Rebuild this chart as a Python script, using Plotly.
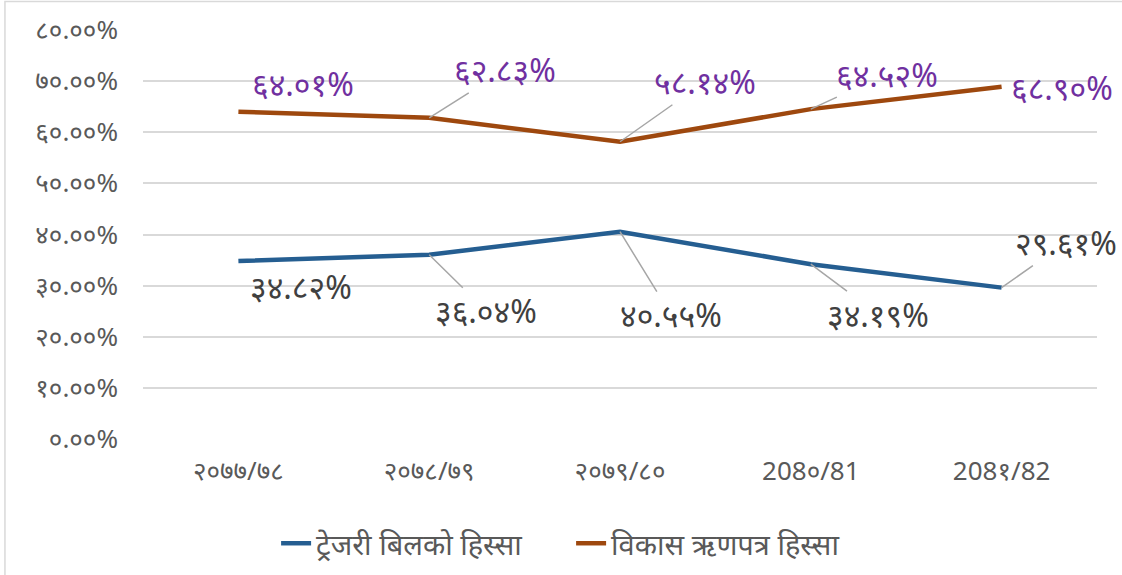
import plotly.graph_objects as go

categories = ["२०७७/७८", "२०७८/७९", "२०७९/८०", "208०/81", "208१/82"]
treasury = [34.82, 36.04, 40.55, 34.19, 29.61]
devbond = [64.01, 62.83, 58.14, 64.52, 68.90]
treasury_labels = ["३४.८२%", "३६.०४%", "४०.५५%", "३४.१९%", "२९.६१%"]
devbond_labels = ["६४.०१%", "६२.८३%", "५८.१४%", "६४.५२%", "६८.९०%"]
ytick_vals = [0, 10, 20, 30, 40, 50, 60, 70, 80]
ytick_text = ["०.००%", "१०.००%", "२०.००%", "३०.००%", "४०.००%", "५०.००%", "६०.००%", "७०.००%", "८०.००%"]
series_names = ["ट्रेजरी बिलको हिस्सा", "विकास ऋणपत्र हिस्सा"]

BLUE = "#255E91"
ORANGE = "#9E480E"
FONT = "Noto Sans, DejaVu Sans, sans-serif"

fig = go.Figure()
fig.add_trace(go.Scatter(x=categories, y=treasury, mode="lines", name=series_names[0],
                         line=dict(color=BLUE, width=4.5)))
fig.add_trace(go.Scatter(x=categories, y=devbond, mode="lines", name=series_names[1],
                         line=dict(color=ORANGE, width=4.5)))

# label offsets (pixels) relative to the data point: (ax, ay, arrow)
dev_off = [(65, -28, False), (76, -48, True), (85, -60, True), (76, -35, True), (60, 1, False)]
tre_off = [(63, 26, False), (57, 56, True), (51, 83, True), (67, 50, True), (64, -45, True)]

for i, c in enumerate(categories):
    ax, ay, arr = dev_off[i]
    fig.add_annotation(x=c, y=devbond[i], text=devbond_labels[i], ax=ax, ay=ay,
                       showarrow=True, arrowhead=0, arrowwidth=1.5,
                       arrowcolor="#A6A6A6" if arr else "rgba(0,0,0,0)",
                       font=dict(size=32, color="#7030A0", family=FONT))
    ax, ay, arr = tre_off[i]
    fig.add_annotation(x=c, y=treasury[i], text=treasury_labels[i], ax=ax, ay=ay,
                       showarrow=True, arrowhead=0, arrowwidth=1.5,
                       arrowcolor="#A6A6A6" if arr else "rgba(0,0,0,0)",
                       font=dict(size=32, color="#404040", family=FONT))

fig.add_shape(type="rect", xref="paper", yref="paper", x0=-0.1447, x1=1.03, y0=-0.345, y1=1.0697,
              line=dict(color="#D9D9D9", width=1.5), fillcolor="rgba(0,0,0,0)", layer="below")

fig.update_layout(
    width=1122, height=575,
    margin=dict(l=143, r=25, t=30, b=136),
    paper_bgcolor="white", plot_bgcolor="white",
    font=dict(family=FONT, color="#595959", size=18),
    showlegend=True,
    legend=dict(orientation="h", xref="container", x=0.509, xanchor="center",
                yref="container", y=0.055, yanchor="middle",
                font=dict(size=29, color="#595959"), entrywidth=250),
    xaxis=dict(range=[-0.5, 4.5], showgrid=False, showline=False, zeroline=False, ticks="",
               tickfont=dict(size=26, color="#595959"), ticklabelstandoff=14),
    yaxis=dict(range=[0, 80], tickvals=ytick_vals, ticktext=ytick_text,
               showgrid=True, gridcolor="#D9D9D9", gridwidth=1.5, zeroline=False,
               showline=False, ticks="", tickfont=dict(size=26, color="#595959"),
               ticklabelstandoff=24),
)

fig.write_html("out.html", config={"displayModeBar": False},
               post_script="document.body.style.margin='0';")
